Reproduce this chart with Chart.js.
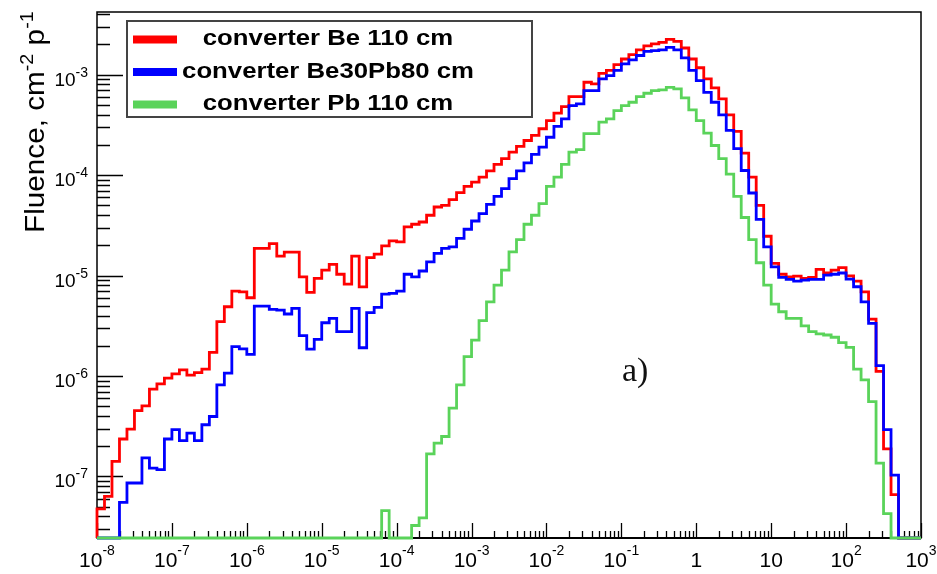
<!DOCTYPE html>
<html>
<head>
<meta charset="utf-8">
<title>Fluence</title>
<script src="https://cdn.jsdelivr.net/npm/chart.js@4.4.1/dist/chart.umd.min.js"></script>
<style>
  html, body { margin: 0; padding: 0; background: #fff; }
  #wrap { position: relative; width: 937px; height: 574px; }
</style>
</head>
<body>
<div id="wrap"><canvas id="fluence"></canvas></div>
<script>
// log binning of the histograms: 10 bins per decade from 1e-8 to 1e3
var binLowExp = -8;
var binsPerDecade = 10;
var nBins = 110;

var seriesNames = ['converter Be 110 cm', 'converter Be30Pb80 cm', 'converter Pb 110 cm'];
var seriesColors = ['#ff0000', '#0000ff', '#5ad35a'];

// fluence per bin (0 = empty bin)
var fluenceBe = [
  4.75e-8, 6.34e-8, 1.41e-7, 2.36e-7, 2.96e-7, 4.53e-7, 5.05e-7, 7.40e-7, 8.35e-7, 9.51e-7,
  1.05e-6, 1.15e-6, 1.02e-6, 1.08e-6, 1.17e-6, 1.72e-6, 3.47e-6, 4.89e-6, 7.00e-6, 6.89e-6,
  6.01e-6, 1.86e-5, 1.86e-5, 2.08e-5, 1.56e-5, 1.71e-5, 1.71e-5, 9.70e-6, 6.80e-6, 9.36e-6,
  1.13e-5, 1.29e-5, 1.03e-5, 8.20e-6, 1.56e-5, 7.70e-6, 1.51e-5, 1.63e-5, 1.97e-5, 2.21e-5,
  2.16e-5, 3.05e-5, 3.24e-5, 3.41e-5, 3.98e-5, 4.81e-5, 5.00e-5, 5.70e-5, 6.68e-5, 7.73e-5,
  8.52e-5, 9.55e-5, 1.10e-4, 1.28e-4, 1.46e-4, 1.69e-4, 1.93e-4, 2.21e-4, 2.48e-4, 2.89e-4,
  3.49e-4, 4.13e-4, 4.81e-4, 6.05e-4, 6.05e-4, 8.39e-4, 8.09e-4, 1.03e-3, 1.10e-3, 1.26e-3,
  1.43e-3, 1.58e-3, 1.76e-3, 1.93e-3, 2.02e-3, 2.09e-3, 2.24e-3, 2.14e-3, 1.84e-3, 1.43e-3,
  1.17e-3, 9.06e-4, 7.38e-4, 5.74e-4, 3.98e-4, 2.72e-4, 1.65e-4, 9.55e-5, 5.00e-5, 2.46e-5,
  1.32e-5, 1.03e-5, 9.70e-6, 9.86e-6, 9.36e-6, 9.58e-6, 1.15e-5, 1.06e-5, 1.13e-5, 1.20e-5,
  9.93e-6, 8.80e-6, 6.89e-6, 3.69e-6, 1.11e-6, 1.88e-7, 6.60e-8, 0, 0, 0
];
var fluenceBePb = [
  0, 0, 0, 5.53e-8, 8.61e-8, 8.61e-8, 1.53e-7, 1.21e-7, 1.17e-7, 2.36e-7,
  2.92e-7, 2.27e-7, 2.70e-7, 2.27e-7, 3.27e-7, 3.95e-7, 8.16e-7, 1.07e-6, 1.96e-6, 1.86e-6,
  1.64e-6, 4.97e-6, 4.97e-6, 4.61e-6, 4.53e-6, 4.14e-6, 4.71e-6, 2.52e-6, 1.85e-6, 2.32e-6,
  3.39e-6, 3.75e-6, 2.76e-6, 2.76e-6, 4.71e-6, 1.91e-6, 4.27e-6, 4.82e-6, 6.53e-6, 6.64e-6,
  7.00e-6, 1.03e-5, 9.70e-6, 1.11e-5, 1.37e-5, 1.66e-5, 1.86e-5, 1.93e-5, 2.34e-5, 2.89e-5,
  3.49e-5, 4.14e-5, 5.12e-5, 6.14e-5, 7.33e-5, 9.21e-5, 1.10e-4, 1.32e-4, 1.61e-4, 1.90e-4,
  2.38e-4, 3.05e-4, 3.63e-4, 4.92e-4, 5.12e-4, 6.94e-4, 6.94e-4, 9.06e-4, 9.77e-4, 1.10e-3,
  1.28e-3, 1.40e-3, 1.55e-3, 1.70e-3, 1.73e-3, 1.76e-3, 1.87e-3, 1.76e-3, 1.47e-3, 1.10e-3,
  8.72e-4, 6.67e-4, 5.31e-4, 3.98e-4, 2.78e-4, 1.83e-4, 1.11e-4, 6.63e-5, 3.63e-5, 1.93e-5,
  1.22e-5, 9.58e-6, 9.15e-6, 8.80e-6, 9.00e-6, 9.15e-6, 9.15e-6, 1.01e-5, 1.03e-5, 1.06e-5,
  9.20e-6, 7.73e-6, 5.48e-6, 3.34e-6, 1.27e-6, 2.92e-7, 1.03e-7, 0, 0, 0
];
var fluencePb = [
  0, 0, 0, 0, 0, 0, 0, 0, 0, 0,
  0, 0, 0, 0, 0, 0, 0, 0, 0, 0,
  0, 0, 0, 0, 0, 0, 0, 0, 0, 0,
  0, 0, 0, 0, 0, 0, 0, 0, 4.57e-8, 0,
  0, 0, 3.25e-8, 3.87e-8, 1.68e-7, 2.15e-7, 2.50e-7, 4.79e-7, 8.16e-7, 1.56e-6,
  2.28e-6, 3.55e-6, 5.48e-6, 8.03e-6, 1.13e-5, 1.72e-5, 2.28e-5, 3.24e-5, 3.98e-5, 5.20e-5,
  7.73e-5, 9.55e-5, 1.28e-4, 1.69e-4, 1.79e-4, 2.58e-4, 2.58e-4, 3.36e-4, 3.63e-4, 4.39e-4,
  4.92e-4, 5.31e-4, 6.05e-4, 6.52e-4, 6.94e-4, 7.05e-4, 7.48e-4, 7.21e-4, 5.87e-4, 4.46e-4,
  3.49e-4, 2.61e-4, 1.97e-4, 1.46e-4, 1.02e-4, 6.14e-5, 3.78e-5, 2.28e-5, 1.34e-5, 8.03e-6,
  5.20e-6, 4.36e-6, 3.75e-6, 3.75e-6, 3.15e-6, 2.76e-6, 2.62e-6, 2.56e-6, 2.43e-6, 2.15e-6,
  1.93e-6, 1.17e-6, 9.15e-7, 5.57e-7, 1.36e-7, 4.27e-8, 0, 0, 0, 0
];

// axis ranges and tick labels
var xMin = 1e-8, xMax = 1e3;
var yMin = 2.44e-8, yMax = 4.2e-3;
var xTickValues = [1e-8, 1e-7, 1e-6, 1e-5, 1e-4, 1e-3, 1e-2, 1e-1, 1, 10, 100, 1000];
var xTickLabels = [['10', '-8'], ['10', '-7'], ['10', '-6'], ['10', '-5'], ['10', '-4'], ['10', '-3'],
                   ['10', '-2'], ['10', '-1'], ['1', ''], ['10', ''], ['10', '2'], ['10', '3']];
var yTickValues = [1e-7, 1e-6, 1e-5, 1e-4, 1e-3];
var yTickLabels = [['10', '-7'], ['10', '-6'], ['10', '-5'], ['10', '-4'], ['10', '-3']];

var SANS = '"Liberation Sans", Arial, Helvetica, sans-serif';

var edges = [];
for (var i = 0; i <= nBins; i++) edges.push(Math.pow(10, binLowExp + i / binsPerDecade));

// points at the right bin edges (stepped 'after' holds a value back to the previous point),
// empty bins sit on the frame bottom like ROOT draws them
function histPoints(vals) {
    var pts = [{x: edges[0], y: yMin}];
    for (var i = 0; i < vals.length; i++) {
        pts.push({x: edges[i + 1], y: vals[i] > 0 ? vals[i] : yMin});
    }
    pts.push({x: edges[vals.length], y: yMin});
    return pts;
}

// base + raised exponent, y is the baseline of the base
function drawPower(ctx, base, exp, x, y, size, expSize, rise, align) {
    ctx.font = size + 'px ' + SANS;
    var wb = ctx.measureText(base).width;
    ctx.font = expSize + 'px ' + SANS;
    var we = exp ? ctx.measureText(exp).width : 0;
    var x0 = x;
    if (align === 'center') x0 = x - (wb + we) / 2;
    if (align === 'right') x0 = x - (wb + we);
    ctx.textAlign = 'left';
    ctx.textBaseline = 'alphabetic';
    ctx.font = size + 'px ' + SANS;
    ctx.fillText(base, x0, y);
    if (exp) {
        ctx.font = expSize + 'px ' + SANS;
        ctx.fillText(exp, x0 + wb, y - rise);
    }
}

var rootFrame = {
    id: 'rootFrame',
    beforeDatasetsDraw: function(chart) {
        var ctx = chart.ctx, a = chart.chartArea;
        var xs = chart.scales.x, ys = chart.scales.y;
        ctx.save();
        ctx.strokeStyle = '#000';
        ctx.lineWidth = 1.5;
        ctx.strokeRect(a.left, a.top, a.right - a.left, a.bottom - a.top);
        ctx.lineWidth = 2;
        ctx.beginPath();
        ctx.moveTo(a.left, a.bottom);
        ctx.lineTo(a.right, a.bottom);
        ctx.stroke();

        // inward ticks, bottom axis
        ctx.lineWidth = 1.3;
        ctx.beginPath();
        for (var e = -8; e <= 3; e++) {
            for (var m = 1; m <= 9; m++) {
                var v = m * Math.pow(10, e);
                if (v > xMax * 1.0001) break;
                var px = Math.round(xs.getPixelForValue(v)) + 0.5;
                var len = m === 1 ? 15 : 7;
                ctx.moveTo(px, a.bottom);
                ctx.lineTo(px, a.bottom - len);
            }
        }
        // inward ticks, left axis
        for (var e2 = -8; e2 <= -3; e2++) {
            for (var m2 = 1; m2 <= 9; m2++) {
                var v2 = m2 * Math.pow(10, e2);
                if (v2 < yMin || v2 > yMax) continue;
                var py = Math.round(ys.getPixelForValue(v2)) + 0.5;
                var len2 = m2 === 1 ? 26 : 13;
                ctx.moveTo(a.left, py);
                ctx.lineTo(a.left + len2, py);
            }
        }
        ctx.stroke();

        // tick labels
        ctx.fillStyle = '#000';
        xTickValues.forEach(function(v, k) {
            var lab = xTickLabels[k];
            drawPower(ctx, lab[0], lab[1], xs.getPixelForValue(v), a.bottom + 29, 21, 14, 12, 'center');
        });
        yTickValues.forEach(function(v, k) {
            var lab = yTickLabels[k];
            drawPower(ctx, lab[0], lab[1], a.left - 9, ys.getPixelForValue(v) + 11, 19, 14, 9, 'right');
        });

        // y title, rotated
        ctx.save();
        ctx.translate(44, 233);
        ctx.rotate(-Math.PI / 2);
        ctx.scale(1.1, 1);
        ctx.textAlign = 'left';
        ctx.textBaseline = 'alphabetic';
        var tx = 0;
        var parts = [['Fluence, cm', 27, 0], ['-2', 18, 11], [' p', 27, 0], ['-1', 18, 11]];
        parts.forEach(function(p) {
            ctx.font = p[1] + 'px ' + SANS;
            ctx.fillText(p[0], tx, -p[2]);
            tx += ctx.measureText(p[0]).width;
        });
        ctx.restore();
        ctx.restore();
    },
    afterDatasetsDraw: function(chart) {
        var ctx = chart.ctx;
        ctx.save();
        // legend box
        ctx.fillStyle = '#fff';
        ctx.fillRect(127, 21, 405, 96);
        ctx.strokeStyle = '#444';
        ctx.lineWidth = 2;
        ctx.strokeRect(127, 21, 405, 96);
        chart.data.datasets.forEach(function(ds, k) {
            var base = 45 + k * 32.5;
            ctx.strokeStyle = ds.borderColor;
            ctx.lineWidth = 8;
            ctx.beginPath();
            ctx.moveTo(133, base - 5.5);
            ctx.lineTo(177, base - 5.5);
            ctx.stroke();
            ctx.save();
            ctx.translate(328, base);
            ctx.scale(1.17, 1);
            ctx.fillStyle = '#000';
            ctx.font = 'bold 22px ' + SANS;
            ctx.textAlign = 'center';
            ctx.textBaseline = 'alphabetic';
            ctx.fillText(ds.label, 0, 0);
            ctx.restore();
        });
        // panel tag
        ctx.fillStyle = '#111';
        ctx.font = '34px "Liberation Serif", "Times New Roman", serif';
        ctx.textAlign = 'left';
        ctx.fillText('a)', 622, 381);
        ctx.restore();
    }
};

var datasets = [fluenceBe, fluenceBePb, fluencePb].map(function(vals, k) {
    return {
        label: seriesNames[k],
        data: histPoints(vals),
        borderColor: seriesColors[k],
        borderWidth: 2.8,
        stepped: 'after',
        fill: false,
        pointRadius: 0,
        clip: 4,
        order: 2 - k
    };
});

var ctx = document.getElementById('fluence').getContext('2d');
var myChart = new Chart(ctx, {
    type: 'line',
    data: { datasets: datasets },
    options: {
        responsive: true,
        maintainAspectRatio: false,
        animation: false,
        layout: { padding: { left: 97, right: 16, top: 12, bottom: 36 } },
        plugins: { legend: { display: false }, tooltip: { enabled: false } },
        scales: {
            x: { type: 'logarithmic', min: xMin, max: xMax, display: false },
            y: { type: 'logarithmic', min: yMin, max: yMax, display: false }
        }
    },
    plugins: [rootFrame]
});
</script>
</body>
</html>
